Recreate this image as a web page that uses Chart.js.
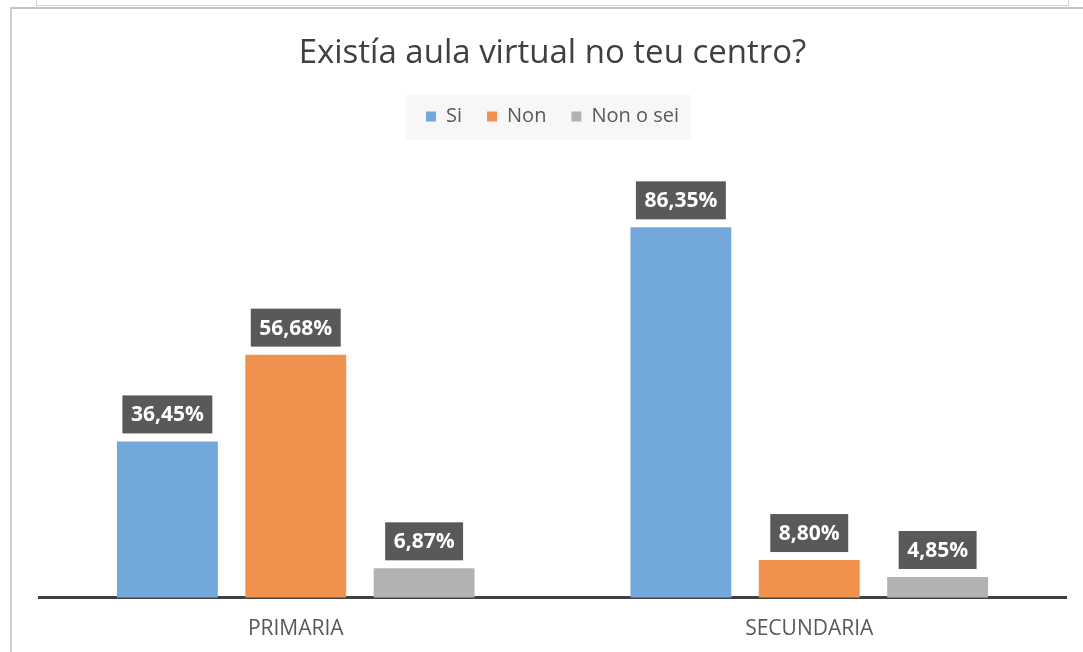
<!DOCTYPE html>
<html lang="gl">
<head>
    <meta charset="UTF-8">
    <title>Existía aula virtual no teu centro?</title>
    <script src="https://cdn.jsdelivr.net/npm/chart.js"></script>
    <style>
        html, body {
            margin: 0;
            padding: 0;
            background: #ffffff;
            overflow: hidden;
            width: 1083px;
            height: 652px;
        }
        /* marcos do documento de orixe */
        .prevBox {
            position: absolute;
            left: 36px;
            top: -10px;
            width: 1031px;
            height: 14px;
            border: 1px solid #d4d4d4;
        }
        .frame {
            position: absolute;
            left: 10px;
            top: 7px;
            width: 1100px;
            height: 700px;
            border-top: 2px solid #c4c4c4;
            border-left: 2px solid #d0d0d0;
        }
        #chartWrap {
            position: absolute;
            left: 12px;
            top: 9px;
            width: 1082px;
            height: 652px;
        }
    </style>
</head>
<body>
    <div class="prevBox"></div>
    <div class="frame"></div>
    <div id="chartWrap"><canvas id="aulaChart" width="1082" height="652"></canvas></div>

    <script>
        // Datos
        const categories = ['PRIMARIA', 'SECUNDARIA'];
        const seriesNames = ['Si', 'Non', 'Non o sei'];
        const siValues = [36.45, 86.35];
        const nonValues = [56.68, 8.80];
        const nonOSeiValues = [6.87, 4.85];

        const colors = ['#72a8dc', '#f0914e', '#b2b2b2'];
        const fontFamily = '"Open Sans", "DejaVu Sans", sans-serif';

        // Fondo suave detrás da lenda
        const legendBackground = {
            id: 'legendBackground',
            beforeDraw(chart) {
                const boxes = chart.legend.legendHitBoxes;
                if (!boxes || !boxes.length) return;
                const first = boxes[0];
                const last = boxes[boxes.length - 1];
                const ctx = chart.ctx;
                const cy = first.top + first.height / 2;
                ctx.save();
                ctx.fillStyle = '#f7f7f7';
                ctx.fillRect(first.left - 20, cy - 22, (last.left + last.width + 12) - (first.left - 20), 45);
                ctx.restore();
            }
        };

        // Etiquetas escuras sobre cada barra
        const labelBoxes = {
            id: 'labelBoxes',
            afterDatasetsDraw(chart) {
                const ctx = chart.ctx;
                ctx.save();
                ctx.font = 'bold 21px ' + fontFamily;
                ctx.textAlign = 'center';
                ctx.textBaseline = 'middle';
                chart.data.datasets.forEach((ds, i) => {
                    chart.getDatasetMeta(i).data.forEach((bar, j) => {
                        const txt = ds.data[j].toFixed(2).replace('.', ',') + '%';
                        const w = ctx.measureText(txt).width + 17;
                        const h = 38;
                        const x = bar.x - w / 2;
                        const y = bar.y - 8 - h;
                        ctx.fillStyle = '#595959';
                        ctx.fillRect(x, y, w, h);
                        ctx.fillStyle = '#ffffff';
                        ctx.fillText(txt, bar.x, y + h / 2 + 1);
                    });
                });
                ctx.restore();
            }
        };

        const ctx = document.getElementById('aulaChart').getContext('2d');
        new Chart(ctx, {
            type: 'bar',
            data: {
                labels: categories,
                datasets: [
                    { label: seriesNames[0], data: siValues, backgroundColor: colors[0] },
                    { label: seriesNames[1], data: nonValues, backgroundColor: colors[1] },
                    { label: seriesNames[2], data: nonOSeiValues, backgroundColor: colors[2] }
                ]
            },
            options: {
                responsive: false,
                animation: false,
                layout: {
                    padding: { left: 27, right: 28, top: 0, bottom: 0 }
                },
                datasets: {
                    bar: {
                        categoryPercentage: 0.75,
                        barPercentage: 0.786,
                        borderWidth: 0
                    }
                },
                scales: {
                    x: {
                        grid: { display: false, drawTicks: false },
                        border: { display: true, color: '#404040', width: 3 },
                        ticks: {
                            color: '#595959',
                            font: { family: fontFamily, size: 21 },
                            padding: 19
                        }
                    },
                    y: {
                        display: false,
                        min: 0,
                        max: 107.5
                    }
                },
                plugins: {
                    title: {
                        display: true,
                        text: 'Existía aula virtual no teu centro?',
                        color: '#404040',
                        font: { family: fontFamily, size: 33, weight: 'normal' },
                        padding: { top: 25, bottom: 8 }
                    },
                    legend: {
                        display: true,
                        labels: {
                            color: '#595959',
                            font: { family: fontFamily, size: 20 },
                            boxWidth: 10,
                            boxHeight: 10,
                            padding: 25
                        }
                    },
                    tooltip: { enabled: false }
                }
            },
            plugins: [legendBackground, labelBoxes]
        });
    </script>
</body>
</html>
